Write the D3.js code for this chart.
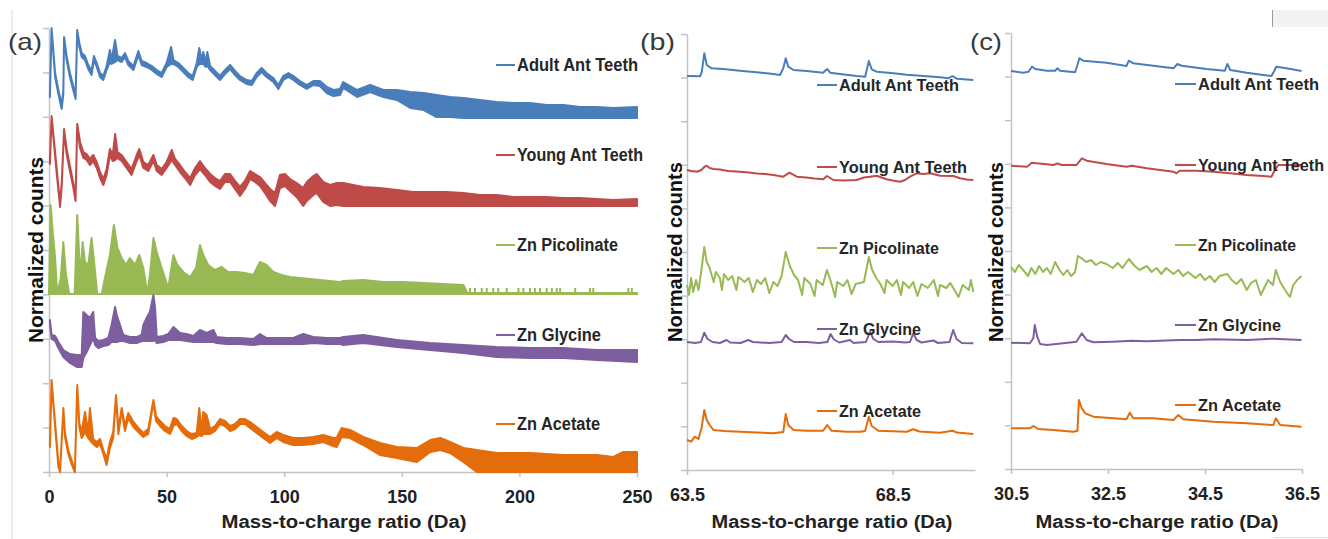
<!DOCTYPE html>
<html>
<head>
<meta charset="utf-8">
<script src="https://cdn.jsdelivr.net/npm/d3@7"></script>
<style>
  body { margin: 0; background: #fff; }
  svg { display: block; }
</style>
</head>
<body>
<div id="chart"></div>
<script>
// ── Series names / colours ─────────────────────────────────────
var SERIES = ['Adult Ant Teeth', 'Young Ant Teeth', 'Zn Picolinate', 'Zn Glycine', 'Zn Acetate'];
var COLORS = ['#4a7ebb', '#be4b48', '#98b954', '#7d5fa0', '#e46c0a'];

// ── Tick values ────────────────────────────────────────────────
var A_XTICKS = [0, 50, 100, 150, 200, 250];
var B_XTICKS = [63.5, 68.5];
var C_XTICKS = [30.5, 32.5, 34.5, 36.5];

// ── Panel (a): full spectra, [m/z, band top, band bottom] ──────
var adultA = [
  [0.4,379,375],[1.1,444,442],[2.6,399,395],[4.0,382,378],[5.4,367,363],[6.1,382,378],[6.4,435,433],
  [7.5,416,412],[8.9,399,395],[10.3,386,382],[11.3,377,373],[12.0,442,440],[12.9,429,425],[13.9,419,415],
  [15.3,416,412],[16.7,407,403],[18.1,401,397],[19.1,416,412],[20.3,409,405],[21.7,399,395],[23.1,396,392],
  [24.5,406,402],[25.9,422,410],[26.6,412,408],[28.1,432,410],[29.1,416,412],[30.9,414,410],[32.3,419,415],
  [33.7,411,407],[35.9,406,402],[38.0,421,417],[39.4,411,407],[41.5,409,405],[43.7,406,402],[45.8,402,398],
  [47.9,399,395],[50.0,409,405],[51.9,425,408],[52.9,412,408],[55.0,409,405],[57.1,404,400],[59.2,399,395],
  [61.1,396,392],[62.8,409,405],[63.9,424,408],[64.9,412,408],[65.6,420,408],[66.6,409,405],[67.3,420,406],
  [68.5,406,402],[70.6,401,397],[72.7,396,392],[74.8,402,398],[77.0,407,403],[79.1,401,397],[81.2,396,392],
  [84.0,392,388],[86.2,391,387],[88.3,399,395],[90.4,404,400],[92.5,399,395],[95.4,394,390],[97.5,387,383],
  [99.6,396,392],[101.8,399,395],[103.9,396,392],[106.7,391,387],[109.6,387,383],[112.4,391,387],[115.2,391,386],
  [118.1,385,379],[120.9,382,376],[123.7,383,377],[125.1,390,384],[131.0,382,375],[136.5,387,380],[142.2,382,375],
  [147.9,382,372],[153.6,380,364],[159.3,379,362],[164.8,377,355],[170.5,375,355],[176.2,374,354],[183.3,372,354],
  [190.3,370,354],[197.4,369,354],[204.5,369,354],[211.6,367,354],[218.7,367,354],[225.8,365,354],[232.9,365,354],
  [239.9,364,354],[250,365,354]
];

var youngA = [
  [0.4,313,308],[1.1,356,354],[3.3,303,298],[4.7,269,265],[5.4,289,285],[6.4,343,341],[7.5,323,318],
  [8.9,306,301],[10.3,289,285],[11.3,276,271],[12.0,348,346],[13.2,330,324],[14.6,320,314],[16.0,318,312],
  [17.4,313,307],[18.8,317,311],[20.3,310,304],[21.7,300,294],[23.1,293,287],[24.5,303,297],[25.9,323,317],
  [27.1,317,311],[28.1,338,312],[29.1,320,314],[30.9,317,311],[33.0,310,304],[35.1,303,297],[37.3,317,311],
  [38.4,323,317],[40.1,310,304],[42.2,307,301],[44.4,317,311],[45.8,307,301],[47.9,303,297],[50.0,310,304],
  [52.2,322,312],[53.6,313,307],[55.7,307,300],[57.8,300,294],[60.0,294,287],[62.1,304,297],[64.2,311,303],
  [66.3,304,297],[68.5,298,290],[70.6,294,286],[72.7,291,283],[74.8,298,290],[77.0,298,290],[79.1,291,283],
  [81.2,285,276],[83.3,291,283],[85.5,301,293],[87.6,298,290],[89.7,295,286],[91.8,289,279],[94.0,283,271],
  [96.1,279,266],[98.2,297,284],[100.3,298,286],[102.5,293,281],[105.3,289,275],[108.1,284,266],[109.6,290,271],
  [112.4,296,277],[113.8,298,279],[116.6,290,270],[119.5,287,266],[122.3,289,267],[125.1,289,266],[133.6,285,266],
  [140.7,284,266],[147.9,282,266],[155.0,280,266],[162.1,280,266],[169.1,280,266],[176.2,279,266],[183.3,277,266],
  [190.3,277,266],[197.4,275,266],[204.5,275,266],[211.6,275,266],[218.7,274,266],[225.8,274,266],[232.9,273,266],
  [239.9,272,266],[250,273,266]
];

var picoA = [
  [0.0,178,178],[0.7,267,178],[1.6,240,178],[2.6,214,178],[3.5,178,178],[5.0,194,178],[6.1,230,178],
  [7.2,197,178],[8.6,178,178],[10.9,178,178],[12.0,257,178],[12.9,214,178],[13.7,207,178],[14.3,230,178],
  [15.3,210,178],[16.7,207,178],[18.1,234,178],[19.3,207,178],[20.5,178,178],[22.4,178,178],[23.8,194,178],
  [25.9,217,178],[27.6,247,178],[29.1,224,178],[30.9,214,178],[32.7,207,178],[34.4,214,178],[36.6,207,178],
  [38.4,217,178],[40.1,204,178],[41.8,178,178],[42.9,197,178],[44.4,234,178],[45.8,220,178],[47.5,207,178],
  [49.3,194,178],[50.7,184,178],[52.9,217,178],[54.6,207,178],[57.1,200,178],[60.0,195,178],[62.5,204,178],
  [64.2,227,178],[65.6,217,178],[67.7,207,178],[70.6,202,178],[73.4,205,178],[76.2,200,178],[79.8,200,178],
  [83.3,199,178],[86.9,197,178],[89.7,210,178],[92.5,207,178],[95.4,200,178],[98.9,197,178],[102.5,195,178],
  [106.7,194,178],[111.0,193,178],[115.2,192,178],[119.5,191,178],[123.7,190,178],[125.1,191,178],[133.6,192,178],
  [142.2,190,178],[150.7,190,178],[159.3,189,178],[167.7,188,178],[176.2,187,178],[177.9,179,178],[250,179,178]
];
var picoSpikesA = [179.0,181.1,184.0,186.1,188.9,191.0,194.6,199.6,201.7,204.5,206.6,208.8,211.6,213.8,
  215.9,217.3,223.7,230.0,231.4,246.3,247.8];
var picoSpikeTop = 184;

var glyA = [
  [0.4,152,148],[1.1,137,133],[2.6,136,131],[4.0,130,124],[6.1,122,115],[8.9,118,109],[11.8,117,105],
  [13.9,117,105],[14.6,160,114],[16.0,157,120],[17.4,154,127],[18.8,160,134],[19.6,134,127],[21.0,131,124],
  [23.1,132,126],[25.2,134,127],[26.6,147,130],[28.1,165,130],[28.8,157,130],[30.2,147,131],[31.6,137,131],
  [34.4,135,129],[37.3,135,129],[39.4,137,131],[40.1,147,131],[41.5,154,131],[42.9,160,131],[44.4,177,131],
  [45.1,164,132],[45.8,135,129],[48.6,136,130],[50.7,138,132],[52.9,145,132],[54.3,142,132],[55.7,139,132],
  [58.5,138,131],[61.4,136,130],[64.2,142,130],[67.0,139,130],[69.9,142,130],[71.3,135,129],[75.5,134,128],
  [81.2,134,128],[86.9,133,127],[89.7,138,128],[92.5,134,128],[98.2,134,128],[103.9,134,128],[108.1,138,128],
  [112.4,135,129],[118.1,134,128],[123.7,134,128],[125.1,135,127],[133.6,137,129],[147.9,132,125],[162.1,129,122],
  [176.2,127,119],[190.3,125,115],[204.5,124,114],[218.7,124,114],[232.9,122,112],[250,122,110]
];

var aceA = [
  [0.4,29,25],[1.1,92,90],[2.6,49,45],[4.0,9,5],[4.7,1,0],[6.1,64,62],[6.8,39,35],[8.2,22,18],[9.6,12,8],
  [11.0,1,0],[12.0,87,85],[12.9,49,45],[13.9,40,34],[15.3,60,40],[16.7,40,34],[17.4,64,32],[18.8,33,28],
  [20.3,30,25],[21.7,33,28],[23.1,22,18],[24.5,13,7],[25.9,30,24],[27.3,40,34],[28.5,77,75],[29.5,43,38],
  [30.9,64,62],[32.3,46,41],[33.7,59,54],[35.9,50,45],[38.0,44,40],[40.1,39,35],[42.2,43,38],[44.4,72,70],
  [45.5,56,51],[47.2,51,46],[49.3,46,41],[51.4,43,38],[52.9,54,46],[54.3,53,48],[56.4,46,41],[58.5,41,36],
  [60.7,38,33],[62.8,39,35],[63.9,64,37],[64.9,40,36],[65.6,60,38],[67.0,57,38],[68.5,43,38],[70.6,46,41],
  [72.7,53,48],[74.8,51,46],[77.0,46,41],[79.1,48,43],[81.2,53,48],[83.3,53,48],[85.5,50,44],[88.3,45,39],
  [91.1,40,34],[94.0,35,29],[96.8,40,34],[99.6,37,30],[103.9,34,27],[108.1,34,27],[112.4,35,28],[116.6,37,30],
  [120.9,34,26],[122.3,34,25],[124.4,44,35],[128.0,42,34],[133.6,35,27],[140.7,29,17],[147.9,25,14],
  [156.4,24,10],[162.1,32,20],[166.4,34,22],[170.5,30,19],[176.2,24,10],[181.9,22,0],[190.3,19,0],
  [204.5,19,0],[218.7,17,0],[232.9,17,0],[239.9,15,0],[244.2,20,0],[250,20,0]
];

// ── Panel (b): 63.5 – 70.5 Da, [m/z, counts] ──────────────────
var adultB = [
  [63.50,394],[63.82,393.7],[63.86,398.3],[63.92,416.7],[63.98,405],[64.10,401.7],[64.38,401],[64.79,399.3],
  [65.19,397.7],[65.60,396],[65.76,395],[65.84,401.7],[65.90,411.7],[65.96,403.3],[66.09,400],[66.41,399],
  [66.81,397.3],[66.85,399],[66.91,401],[66.98,397.3],[67.22,396],[67.62,394],[67.83,393.3],[67.92,409],
  [67.99,400.7],[68.11,398.3],[68.52,396.7],[68.84,395.3],[69.25,394],[69.65,392.7],[69.85,391.7],[69.95,394],
  [70.06,391.3],[70.46,390]
];
var youngB = [
  [63.50,300],[63.60,299],[63.74,298.3],[63.85,300],[63.92,303],[63.98,304.3],[64.05,302],[64.14,301],
  [64.30,300.5],[64.50,299],[64.79,298.3],[65.00,297.5],[65.20,296.5],[65.40,296],[65.60,295],[65.84,293.3],
  [65.99,297.3],[66.17,293.3],[66.40,292.5],[66.60,291.5],[66.81,290.7],[66.90,294],[67.06,290],[67.30,289.5],
  [67.62,290],[67.80,292.5],[67.95,293.3],[68.11,294.3],[68.35,290.7],[68.50,289.5],[68.68,288.3],[68.80,290],
  [68.92,293.3],[69.08,296.7],[69.25,296],[69.41,296.7],[69.65,294.3],[69.97,294],[70.14,291.7],[70.30,290.5],
  [70.46,290]
];
var picoB = [
  [63.50,185],[63.55,175],[63.60,192],[63.65,178],[63.72,190],[63.78,180],[63.85,200],[63.92,223],[63.98,208],
  [64.05,202],[64.10,195],[64.15,188],[64.20,198],[64.30,192],[64.35,180],[64.40,196],[64.50,190],[64.60,194],
  [64.70,180],[64.75,193],[64.90,188],[65.00,192],[65.10,178],[65.20,190],[65.30,186],[65.40,192],[65.50,177],
  [65.60,188],[65.70,184],[65.80,194],[65.90,218],[66.00,204],[66.10,195],[66.20,190],[66.30,175],[66.35,192],
  [66.50,186],[66.60,174],[66.65,190],[66.80,185],[66.90,200],[67.00,188],[67.10,173],[67.15,188],[67.30,184],
  [67.40,190],[67.50,176],[67.60,186],[67.80,188],[67.92,213],[68.00,200],[68.10,192],[68.20,186],[68.30,177],
  [68.35,190],[68.50,184],[68.60,190],[68.70,175],[68.75,188],[68.90,182],[69.00,188],[69.10,174],[69.20,186],
  [69.35,182],[69.50,190],[69.60,174],[69.65,185],[69.80,182],[69.90,187],[70.00,180],[70.10,173],[70.20,185],
  [70.35,180],[70.40,190],[70.46,178]
];
var glyB = [
  [63.50,128],[63.70,127],[63.84,128],[63.92,137.3],[64.00,131],[64.12,128],[64.30,127],[64.46,130],[64.55,127.5],
  [64.80,127],[64.99,130],[65.10,128],[65.50,127],[65.80,128],[65.90,135],[65.98,131],[66.10,128],[66.41,128],
  [66.70,127],[66.91,128],[66.99,136],[67.07,130.5],[67.20,127.5],[67.46,130],[67.55,127],[67.85,128],[67.95,138.3],
  [68.03,131],[68.15,128],[68.52,128.5],[68.80,127.5],[68.92,128],[69.00,136.7],[69.08,130],[69.20,127.5],
  [69.49,129.5],[69.60,127],[69.88,128],[69.97,140],[70.05,131],[70.18,127],[70.46,126.7]
];
var aceB = [
  [63.50,30],[63.60,28.3],[63.69,33.3],[63.78,31],[63.86,43.3],[63.92,60],[63.98,50],[64.05,45],[64.14,40],
  [64.40,39],[64.79,38.3],[65.20,37.5],[65.60,36.7],[65.84,38],[65.90,56],[65.96,45],[66.09,40],[66.41,39.3],
  [66.81,39.3],[66.91,45],[67.01,39.3],[67.40,38.3],[67.72,38.3],[67.83,39],[67.92,53.3],[67.99,44],[68.15,39.3],
  [68.84,38.3],[69.00,40.7],[69.15,38.5],[69.65,37.3],[69.95,39.3],[70.06,37.5],[70.46,36]
];

// ── Panel (c): 30.5 – 36.5 Da, [m/z, counts] ──────────────────
var adultC = [
  [30.50,398],[30.75,396.3],[30.86,397.3],[30.93,402.3],[31.00,400],[31.24,398.3],[31.41,398.3],[31.46,400.7],
  [31.51,398.3],[31.82,396.7],[31.87,404],[31.91,410.7],[31.99,408.3],[32.47,406.3],[32.88,403],[32.93,408.3],
  [33.02,405.7],[33.43,403.3],[33.85,400.7],[33.93,405],[34.02,403.3],[34.53,400],[34.91,398.3],[34.96,405],
  [35.02,399],[35.36,396.3],[35.70,394],[35.87,393],[35.92,397.3],[35.97,402.3],[36.18,400.7],[36.49,398]
];
var youngC = [
  [30.50,303.3],[30.83,302.3],[30.93,306.3],[31.03,305.7],[31.38,304],[31.46,305.7],[31.54,304],[31.85,304],
  [31.96,310.7],[32.06,308.3],[32.47,305],[32.88,302.3],[32.99,303.3],[33.30,300.7],[33.85,297.3],[33.91,295.7],
  [33.98,298.3],[34.33,298.3],[34.67,297.3],[35.02,295.7],[35.36,294],[35.70,293],[35.87,292.3],[35.94,299],
  [36.01,304],[36.25,304],[36.49,304]
];
var picoC = [
  [30.50,202],[30.58,197],[30.66,204],[30.75,199],[30.85,193],[30.92,201],[31.00,195],[31.08,203],[31.16,197],
  [31.24,201],[31.32,195],[31.41,207],[31.50,199],[31.58,194],[31.66,199],[31.74,193],[31.82,197],[31.88,213],
  [31.95,211],[32.05,207],[32.15,209],[32.25,204],[32.35,207],[32.47,205],[32.60,201],[32.70,206],[32.80,201],
  [32.93,210],[33.05,203],[33.15,199],[33.30,203],[33.40,197],[33.50,201],[33.60,195],[33.70,201],[33.85,195],
  [33.95,199],[34.05,193],[34.15,197],[34.30,191],[34.40,195],[34.50,189],[34.60,193],[34.70,187],[34.80,193],
  [34.96,195],[35.05,189],[35.15,185],[35.25,190],[35.36,179],[35.45,186],[35.55,189],[35.65,174],[35.72,181],
  [35.80,189],[35.90,184],[35.96,199],[36.05,187],[36.15,179],[36.25,172],[36.32,184],[36.40,189],[36.49,193]
];
var glyC = [
  [30.50,126.3],[30.89,125.7],[30.96,130.7],[30.99,144],[31.04,132.3],[31.10,125],[31.24,124],[31.58,125.7],
  [31.85,127.3],[31.96,135.7],[32.06,129],[32.20,126.7],[32.60,127.3],[32.99,128.3],[33.30,127.7],[33.98,129],
  [34.33,129],[34.67,129.7],[35.36,129],[35.91,130.3],[36.49,129]
];
var aceC = [
  [30.50,40.7],[30.89,40.7],[30.96,43],[31.06,40],[31.37,39],[31.79,37.3],[31.87,38.3],[31.90,69],[31.96,60.7],
  [32.03,55.7],[32.20,52.3],[32.61,50.7],[32.88,49.7],[32.95,56.3],[33.02,50.7],[33.43,50.7],[33.85,49],
  [33.95,54],[34.05,49.7],[34.67,47.3],[35.36,45.7],[35.91,44],[35.96,50.7],[36.05,44],[36.49,42.3]
];

// ── Layout ─────────────────────────────────────────────────────
var W = 1328, H = 539;
var FONT = 'Liberation Sans, Arial, sans-serif';

var PANELS = [
  { tag: '(a)', tagX: 8,  tagW: 34, left: 49,  right: 637,  top: 28, bottom: 472,
    xDom: [0, 250], yMax: 444, xTicks: A_XTICKS, fmt: d3.format('d'), bands: [adultA, youngA, picoA, glyA, aceA],
    legX: 496, legLen: 19, legFont: 18, legY: [65, 155, 245, 335, 424], legW: [121, 126, 101, 84, 83],
    yTitleX: 43, yTitleY: 250, yTitleW: 186, xTitleX: 344, xTitleW: 245 },
  { tag: '(b)', tagX: 640, tagW: 35, left: 687, right: 975, top: 34, bottom: 470,
    xDom: [63.5, 70.5], yMax: 436, xTicks: B_XTICKS, fmt: d3.format('.1f'), lines: [adultB, youngB, picoB, glyB, aceB],
    legX: 817, legLen: 20, legFont: 16, legY: [85, 167, 248, 329, 411], legW: [120, 128, 100, 82, 82],
    yTitleX: 682, yTitleY: 252, yTitleW: 180, xTitleX: 832, xTitleW: 241 },
  { tag: '(c)', tagX: 970, tagW: 32, left: 1011, right: 1302, top: 33, bottom: 469,
    xDom: [30.5, 36.5], yMax: 436, xTicks: C_XTICKS, fmt: d3.format('.1f'), lines: [adultC, youngC, picoC, glyC, aceC],
    legX: 1175, legLen: 21, legFont: 16, legY: [84, 165, 245, 325, 405], legW: [121, 126, 98, 83, 83],
    yTitleX: 1003, yTitleY: 252, yTitleW: 180, xTitleX: 1157, xTitleW: 243 }
];

var svg = d3.select('#chart').append('svg')
  .attr('width', W)
  .attr('height', H)
  .style('font-family', FONT);

// faint frame bits left over from the source figure
svg.append('line').attr('x1', 12).attr('x2', 12).attr('y1', 10).attr('y2', H)
  .attr('stroke', '#d9d9d9').attr('stroke-width', 1);
svg.append('rect').attr('x', 1272).attr('y', 10).attr('width', 56).attr('height', 17).attr('fill', '#f3f3f3');
svg.append('line').attr('x1', 1272.5).attr('x2', 1272.5).attr('y1', 10).attr('y2', 27)
  .attr('stroke', '#9a9a9a').attr('stroke-width', 1);
svg.append('line').attr('x1', 1273).attr('x2', W).attr('y1', 537.5).attr('y2', 537.5)
  .attr('stroke', '#dddddd').attr('stroke-width', 1);

PANELS.forEach(drawPanel);

function drawPanel(p) {
  var x = d3.scaleLinear().domain(p.xDom).range([p.left, p.right]);
  var y = d3.scaleLinear().domain([0, p.yMax]).range([p.bottom, p.top]);
  var g = svg.append('g');

  // ── Axes ──────────────────────────────────────────────
  var yTicks = d3.range(11).map(function(i) { return i * p.yMax / 10; });
  var yAxis = g.append('g')
    .attr('transform', 'translate(' + p.left + ',0)')
    .call(d3.axisLeft(y).tickValues(yTicks).tickSize(6).tickSizeOuter(0).tickFormat(''));

  var xAxis = g.append('g')
    .attr('transform', 'translate(0,' + p.bottom + ')')
    .call(d3.axisBottom(x).tickValues(p.xTicks).tickSize(5).tickSizeOuter(0).tickPadding(13).tickFormat(p.fmt));

  [yAxis, xAxis].forEach(function(a) {
    a.select('.domain').attr('stroke', '#c3c3c3').attr('stroke-width', 1.5);
    a.selectAll('.tick line').attr('stroke', '#c3c3c3').attr('stroke-width', 1.5);
  });
  xAxis.selectAll('.tick text')
    .attr('fill', '#222')
    .attr('font-size', '18px')
    .attr('font-weight', 'bold')
    .attr('font-family', FONT);

  // ── Series ────────────────────────────────────────────
  if (p.bands) {
    var area = d3.area()
      .x(function(d) { return x(d[0]); })
      .y0(function(d) { return y(d[2]); })
      .y1(function(d) { return y(d[1]); });
    p.bands.forEach(function(data, i) {
      g.append('path')
        .datum(data)
        .attr('d', area)
        .attr('fill', COLORS[i])
        .attr('stroke', COLORS[i])
        .attr('stroke-width', 2)
        .attr('stroke-linejoin', 'round');
    });
    g.selectAll('.pico-spike')
      .data(picoSpikesA)
      .enter()
      .append('line')
      .attr('class', 'pico-spike')
      .attr('x1', function(d) { return x(d); })
      .attr('x2', function(d) { return x(d); })
      .attr('y1', y(178))
      .attr('y2', y(picoSpikeTop))
      .attr('stroke', COLORS[2])
      .attr('stroke-width', 2);
  }

  if (p.lines) {
    var line = d3.line()
      .x(function(d) { return x(d[0]); })
      .y(function(d) { return y(d[1]); });
    p.lines.forEach(function(data, i) {
      g.append('path')
        .datum(data)
        .attr('d', line)
        .attr('fill', 'none')
        .attr('stroke', COLORS[i])
        .attr('stroke-width', 2)
        .attr('stroke-linejoin', 'round');
    });
  }

  // ── Legend entries ────────────────────────────────────
  SERIES.forEach(function(name, i) {
    var ly = p.legY[i];
    g.append('line')
      .attr('x1', p.legX).attr('x2', p.legX + p.legLen)
      .attr('y1', ly).attr('y2', ly)
      .attr('stroke', COLORS[i])
      .attr('stroke-width', 2);
    g.append('text')
      .attr('x', p.legX + p.legLen + 2)
      .attr('y', ly + 6)
      .attr('fill', '#262626')
      .attr('font-size', p.legFont + 'px')
      .attr('font-weight', 'bold')
      .attr('textLength', p.legW[i])
      .attr('lengthAdjust', 'spacingAndGlyphs')
      .text(name);
  });

  // ── Titles ────────────────────────────────────────────
  g.append('text')
    .attr('x', p.xTitleX)
    .attr('y', 528)
    .attr('text-anchor', 'middle')
    .attr('fill', '#222')
    .attr('font-size', '18px')
    .attr('font-weight', 'bold')
    .attr('textLength', p.xTitleW)
    .attr('lengthAdjust', 'spacingAndGlyphs')
    .text('Mass-to-charge ratio (Da)');

  g.append('text')
    .attr('transform', 'translate(' + p.yTitleX + ',' + p.yTitleY + ') rotate(-90)')
    .attr('text-anchor', 'middle')
    .attr('fill', '#111')
    .attr('font-size', '20px')
    .attr('font-weight', 'bold')
    .attr('textLength', p.yTitleW)
    .attr('lengthAdjust', 'spacingAndGlyphs')
    .text('Normalized counts');

  g.append('text')
    .attr('x', p.tagX)
    .attr('y', 50)
    .attr('fill', '#3a3a3a')
    .attr('font-size', '24px')
    .attr('textLength', p.tagW)
    .attr('lengthAdjust', 'spacingAndGlyphs')
    .text(p.tag);
}
</script>
</body>
</html>
